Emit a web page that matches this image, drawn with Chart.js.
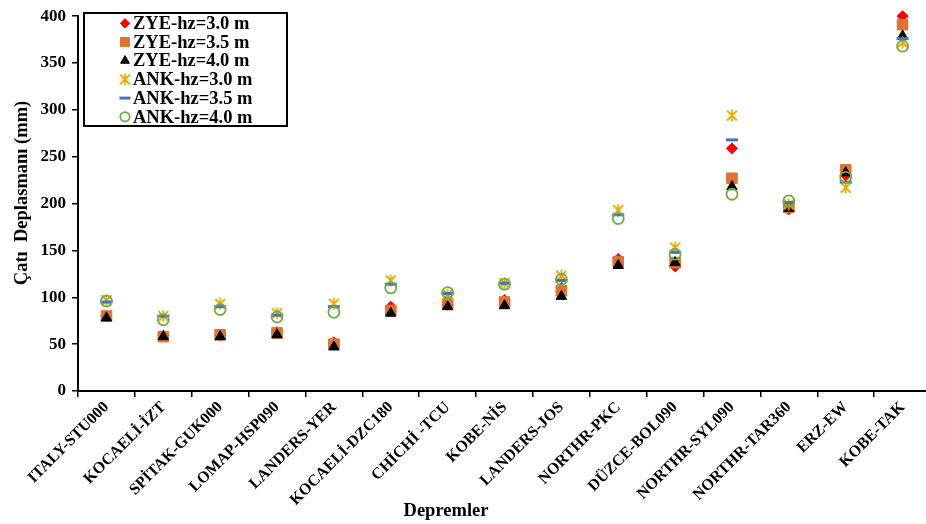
<!DOCTYPE html>
<html>
<head>
<meta charset="utf-8">
<script src="https://cdn.jsdelivr.net/npm/chart.js@4/dist/chart.umd.min.js"></script>
<style>
  body { margin: 0; overflow: hidden; background: #fff; }
</style>
</head>
<body>
<canvas id="myChart" width="940" height="524"></canvas>
<script>
const depremler = ['ITALY-STU000', 'KOCAELİ-İZT', 'SPİTAK-GUK000', 'LOMAP-HSP090', 'LANDERS-YER',
  'KOCAELİ-DZC180', 'CHİCHİ -TCU', 'KOBE-NİS', 'LANDERS-JOS', 'NORTHR-PKC',
  'DÜZCE-BOL090', 'NORTHR-SYL090', 'NORTHR-TAR360', 'ERZ-EW', 'KOBE-TAK']
const zye30 = [80, 59, 59, 63, 52, 90, 92, 97, 110, 141, 133, 259, 194, 230, 400]
const zye35 = [80, 58, 60, 62, 50, 86, 93, 95, 107, 138, 137, 227, 196, 236, 391]
const zye40 = [78, 58, 58, 60, 47, 83, 90, 91, 101, 134, 137, 218, 195, 233, 379]
const ank30 = [97, 80, 93, 83, 93, 118, 103, 115, 123, 193, 153, 294, 199, 217, 372]
const ank35 = [95, 80, 90, 81, 90, 114, 104, 115, 118, 188, 148, 268, 201, 223, 376]
const ank40 = [96, 76, 87, 79, 84, 110, 105, 114, 119, 184, 146, 210, 203, 228, 368]
const yTicks = [0, 50, 100, 150, 200, 250, 300, 350, 400]

const serif = 'Liberation Serif'

// six-armed asterisk like the Excel marker
function asterisk(color) {
  const c = document.createElement('canvas')
  c.width = 13
  c.height = 13
  const g = c.getContext('2d')
  g.strokeStyle = color
  g.lineWidth = 1.8
  g.beginPath()
  g.moveTo(1.5, 1.5); g.lineTo(11.5, 11.5)
  g.moveTo(11.5, 1.5); g.lineTo(1.5, 11.5)
  g.moveTo(6.5, 0.5); g.lineTo(6.5, 12.5)
  g.stroke()
  return c
}

function series(label, data, style, color, fill, radius, bw, order) {
  return {
    label: label,
    data: data,
    showLine: false,
    clip: false,
    pointStyle: style,
    pointRadius: radius,
    pointHoverRadius: radius,
    pointBackgroundColor: fill,
    pointBorderColor: color,
    pointBorderWidth: bw,
    order: order
  }
}

// legend box inside the plot + axis titles placed like the original
const extras = {
  id: 'extras',
  afterDraw(chart) {
    const ctx = chart.ctx
    const x0 = 84, y0 = 13, w = 203, h = 113
    ctx.save()
    ctx.fillStyle = '#fff'
    ctx.fillRect(x0, y0, w, h)
    ctx.strokeStyle = '#000'
    ctx.lineWidth = 2
    ctx.strokeRect(x0, y0, w, h)
    ctx.font = 'bold 18.5px ' + serif
    ctx.textBaseline = 'middle'
    chart.data.datasets.forEach((ds, i) => {
      const y = 23.3 + i * 18.7
      ctx.fillStyle = ds.pointBackgroundColor
      ctx.strokeStyle = ds.pointBorderColor
      ctx.lineWidth = ds.pointBorderWidth
      Chart.helpers.drawPoint(ctx, {
        pointStyle: ds.pointStyle,
        radius: ds.pointStyle === 'line' ? 5.5 : ds.pointRadius * 0.85,
        rotation: 0,
        borderWidth: ds.pointBorderWidth
      }, 125, y)
      ctx.fillStyle = '#000'
      ctx.fillText(ds.label, 133, y + 1)
    })

    ctx.font = 'bold 18.5px ' + serif
    ctx.textAlign = 'center'
    ctx.fillText('Depremler', 446, 511)
    ctx.translate(22, 193)
    ctx.rotate(-Math.PI / 2)
    ctx.fillText('Çatı  Deplasmanı (mm)', 0, 0)
    ctx.restore()
  }
}

const show = document.getElementById('myChart').getContext('2d')
const myChart = new Chart(show, {
  type: 'line',
  data: {
    labels: depremler,
    datasets: [
      series('ZYE-hz=3.0 m', zye30, 'rectRot', '#ff0000', '#ff0000', 5.5, 1, 6),
      series('ZYE-hz=3.5 m', zye35, 'rect', '#dd7433', '#dd7433', 7.5, 1, 5),
      series('ZYE-hz=4.0 m', zye40, 'triangle', '#000000', '#000000', 6, 1, 4),
      series('ANK-hz=3.0 m', ank30, asterisk('#e8a900'), '#e8a900', '#e8a900', 6, 1.8, 3),
      series('ANK-hz=3.5 m', ank35, 'line', '#4472c4', '#4472c4', 6, 3, 2),
      series('ANK-hz=4.0 m', ank40, 'circle', '#70ad47', 'rgba(255,255,255,0)', 5.5, 1.8, 1)
    ]
  },
  options: {
    responsive: false,
    animation: false,
    devicePixelRatio: 1,
    layout: { padding: { top: 15, left: 0, right: 6, bottom: 0 } },
    plugins: {
      legend: { display: false },
      tooltip: { enabled: false }
    },
    scales: {
      x: {
        offset: true,
        grid: { display: true, drawOnChartArea: false, offset: true, tickLength: 6, color: '#000', tickColor: '#000', lineWidth: 1.5 },
        border: { color: '#000', width: 2 },
        ticks: {
          color: '#000',
          minRotation: 45,
          maxRotation: 45,
          autoSkip: false,
          padding: 1,
          font: { family: serif, size: 16, weight: 'bold' }
        },
        afterFit: s => { s.height = 133 }
      },
      y: {
        min: 0,
        max: 400,
        afterBuildTicks: s => { s.ticks = yTicks.map(v => ({ value: v })) },
        grid: { display: true, drawOnChartArea: false, tickLength: 6, color: '#000', tickColor: '#000', lineWidth: 1.5 },
        border: { color: '#000', width: 2 },
        ticks: {
          color: '#000',
          padding: 6,
          font: { family: serif, size: 17, weight: 'bold' }
        },
        afterFit: s => { s.width = 78 }
      }
    }
  },
  plugins: [extras]
})
</script>
</body>
</html>
